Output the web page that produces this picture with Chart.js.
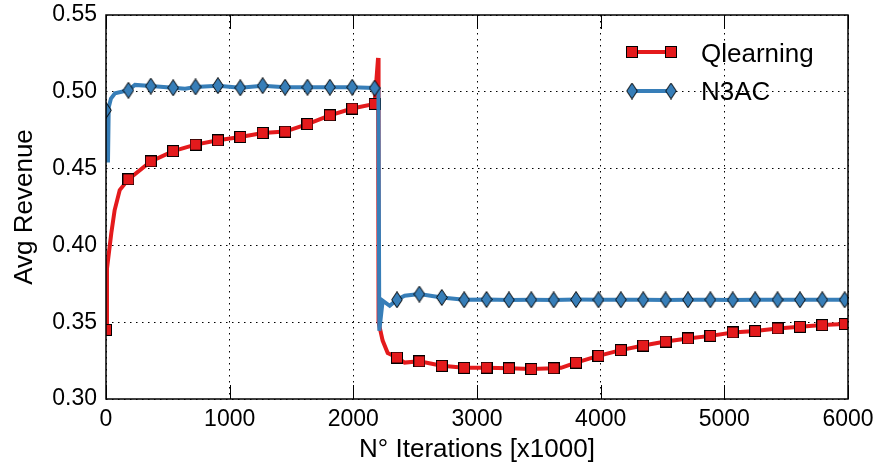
<!DOCTYPE html>
<html>
<head>
<meta charset="utf-8">
<script src="https://cdn.jsdelivr.net/npm/chart.js@4.4.1/dist/chart.umd.min.js"></script>
<style>
  html, body { margin: 0; padding: 0; background: #fff; }
  #wrap { width: 880px; height: 471px; }
</style>
</head>
<body>
<div id="wrap"><canvas id="myChart" width="880" height="471"></canvas></div>
<script>
// Avg revenue vs iterations

// iterations [x1000] that carry a marker
const markerIters = [0, 181, 362, 543, 724, 905, 1086, 1267, 1448, 1629, 1810, 1991, 2172,
  2353, 2534, 2715, 2896, 3077, 3258, 3439, 3620, 3801, 3982, 4163, 4344, 4525, 4706,
  4887, 5068, 5249, 5430, 5611, 5792, 5973];

// Qlearning curve
const qlIters = [0, 8, 43, 70, 111, 181, 362, 543, 724, 905, 1086, 1267, 1448, 1629, 1810,
  1991, 2172, 2200, 2204, 2237, 2278, 2353, 2415, 2534, 2715, 2896, 3077, 3258, 3439, 3620,
  3680, 3801, 3982, 4163, 4344, 4525, 4706, 4887, 5068, 5249, 5430, 5611, 5792, 5973, 6000];
const qlRevenue = [0.345, 0.385, 0.408, 0.423, 0.436, 0.443, 0.4547, 0.4614, 0.4656, 0.4684,
  0.4706, 0.4732, 0.4741, 0.479, 0.4847, 0.4891, 0.4921, 0.522, 0.350, 0.338, 0.330, 0.327,
  0.3237, 0.3245, 0.3216, 0.3203, 0.3204, 0.3200, 0.3195, 0.3200, 0.3203, 0.3237, 0.3281,
  0.3318, 0.3348, 0.3374, 0.3394, 0.3411, 0.3433, 0.3442, 0.3459, 0.3470, 0.3481, 0.3488, 0.3489];

// N3AC curve
const n3Iters = [0, 16, 22, 40, 73, 181, 234, 362, 543, 640, 724, 905, 1086, 1267, 1448, 1629,
  1810, 1991, 2172, 2203, 2210, 2237, 2294, 2353, 2415, 2534, 2715, 2896, 3077, 3258, 3439,
  3620, 3801, 3982, 4163, 4344, 4525, 4706, 4887, 5068, 5249, 5430, 5611, 5792, 5973, 6000];
const n3Revenue = [0.488, 0.454, 0.490, 0.4956, 0.499, 0.501, 0.5045, 0.5037, 0.5026, 0.502,
  0.5032, 0.504, 0.5026, 0.504, 0.503, 0.503, 0.503, 0.503, 0.5024, 0.502, 0.3444, 0.364,
  0.3607, 0.3646, 0.3672, 0.3683, 0.3661, 0.3646, 0.3648, 0.3645, 0.3646, 0.3645, 0.3647,
  0.3646, 0.3646, 0.3646, 0.3645, 0.3646, 0.3646, 0.3645, 0.3646, 0.3646, 0.3646, 0.3646,
  0.3646, 0.3646];

const xTicks = [0, 1000, 2000, 3000, 4000, 5000, 6000];
const yTicks = [0.30, 0.35, 0.40, 0.45, 0.50, 0.55];

const RED = '#e41a1c';
const BLUE = '#377eb8';
const FONT = '"Liberation Sans", Arial, Helvetica, sans-serif';

// matplotlib-like markers as little canvases
function squareMarker(color) {
  const c = document.createElement('canvas');
  c.width = 12; c.height = 12;
  const g = c.getContext('2d');
  g.fillStyle = color;
  g.fillRect(0.5, 0.5, 11, 11);
  g.strokeStyle = '#000';
  g.lineWidth = 1;
  g.strokeRect(0.5, 0.5, 11, 11);
  return c;
}
function thinDiamond(color) {
  const c = document.createElement('canvas');
  c.width = 12; c.height = 17;
  const g = c.getContext('2d');
  g.beginPath();
  g.moveTo(6, 0.5); g.lineTo(11.3, 8.5); g.lineTo(6, 16.5); g.lineTo(0.7, 8.5);
  g.closePath();
  g.fillStyle = color; g.fill();
  g.strokeStyle = '#000'; g.lineWidth = 1; g.stroke();
  return c;
}
const sqImg = squareMarker(RED);
const diaImg = thinDiamond(BLUE);

const markerRadius = ctx => (ctx.raw && markerIters.includes(ctx.raw.x)) ? 6 : 0;

// frame + inward x ticks on top and bottom
const framePlugin = {
  id: 'frame',
  afterDraw(chart) {
    const {ctx, chartArea: a, scales} = chart;
    ctx.save();
    ctx.strokeStyle = '#000';
    ctx.lineWidth = 1;
    xTicks.forEach(v => {
      const px = Math.round(scales.x.getPixelForValue(v)) + 0.5;
      ctx.beginPath();
      ctx.moveTo(px, a.bottom); ctx.lineTo(px, a.bottom - 14);
      ctx.moveTo(px, a.top); ctx.lineTo(px, a.top + 14);
      ctx.stroke();
    });
    ctx.lineWidth = 1.5;
    ctx.strokeRect(a.left, a.top, a.right - a.left, a.bottom - a.top);
    ctx.restore();
  }
};

// legend with line and two markers, inside the plot
const legendPlugin = {
  id: 'mplLegend',
  afterDraw(chart) {
    const ctx = chart.ctx;
    const rows = [
      {label: 'Qlearning', color: RED, img: sqImg, y: 52, base: 62},
      {label: 'N3AC', color: BLUE, img: diaImg, y: 91, base: 100}
    ];
    ctx.save();
    rows.forEach(r => {
      ctx.strokeStyle = r.color;
      ctx.lineWidth = 4;
      ctx.beginPath();
      ctx.moveTo(632, r.y); ctx.lineTo(671, r.y);
      ctx.stroke();
      [632, 671].forEach(mx => ctx.drawImage(r.img, mx - r.img.width / 2, r.y - r.img.height / 2));
      ctx.fillStyle = '#000';
      ctx.font = '26px ' + FONT;
      ctx.textBaseline = 'alphabetic';
      ctx.fillText(r.label, 701, r.base);
    });
    ctx.restore();
  }
};

const ctx = document.getElementById('myChart');
const myChart = new Chart(ctx, {
  type: 'line',
  data: {
    datasets: [
      {
        label: 'Qlearning',
        data: qlIters.map((x, i) => ({x: x, y: qlRevenue[i]})),
        borderColor: RED,
        backgroundColor: RED,
        borderWidth: 4,
        fill: false,
        tension: 0,
        pointStyle: sqImg,
        pointRadius: markerRadius,
        pointHoverRadius: markerRadius,
        order: 1
      },
      {
        label: 'N3AC',
        data: n3Iters.map((x, i) => ({x: x, y: n3Revenue[i]})),
        borderColor: BLUE,
        backgroundColor: BLUE,
        borderWidth: 4,
        fill: false,
        tension: 0,
        pointStyle: diaImg,
        pointRadius: markerRadius,
        pointHoverRadius: markerRadius,
        order: 0
      }
    ]
  },
  options: {
    responsive: false,
    animation: false,
    devicePixelRatio: 1,
    events: [],
    layout: { padding: { left: 0, right: 32, top: 15, bottom: 0 } },
    scales: {
      x: {
        type: 'linear',
        min: 0,
        max: 6000,
        afterBuildTicks: s => { s.ticks = xTicks.map(v => ({value: v})); },
        afterFit: s => { s.height = 72; s.paddingLeft = 0; s.paddingRight = 0; },
        grid: { color: '#000', lineWidth: 1, drawTicks: false },
        border: { display: false, dash: [1.5, 4.5] },
        ticks: {
          color: '#000',
          padding: 7,
          maxRotation: 0,
          font: { family: FONT, size: 23 },
          callback: v => String(v)
        },
        title: {
          display: true,
          text: 'N° Iterations [x1000]',
          color: '#000',
          font: { family: FONT, size: 26 },
          padding: { top: 0, bottom: 6 }
        }
      },
      y: {
        min: 0.30,
        max: 0.55,
        afterBuildTicks: s => { s.ticks = yTicks.map(v => ({value: v})); },
        afterFit: s => { s.width = 106; s.paddingTop = 0; s.paddingBottom = 0; },
        grid: { color: '#000', lineWidth: 1, drawTicks: false },
        border: { display: false, dash: [1.5, 4.5] },
        ticks: {
          color: '#000',
          padding: 9,
          font: { family: FONT, size: 23 },
          callback: v => Number(v).toFixed(2)
        },
        title: {
          display: true,
          text: 'Avg Revenue',
          color: '#000',
          font: { family: FONT, size: 26 },
          padding: { top: 9, bottom: 0 }
        }
      }
    },
    plugins: {
      legend: { display: false },
      tooltip: { enabled: false }
    }
  },
  plugins: [framePlugin, legendPlugin]
});
</script>
</body>
</html>
